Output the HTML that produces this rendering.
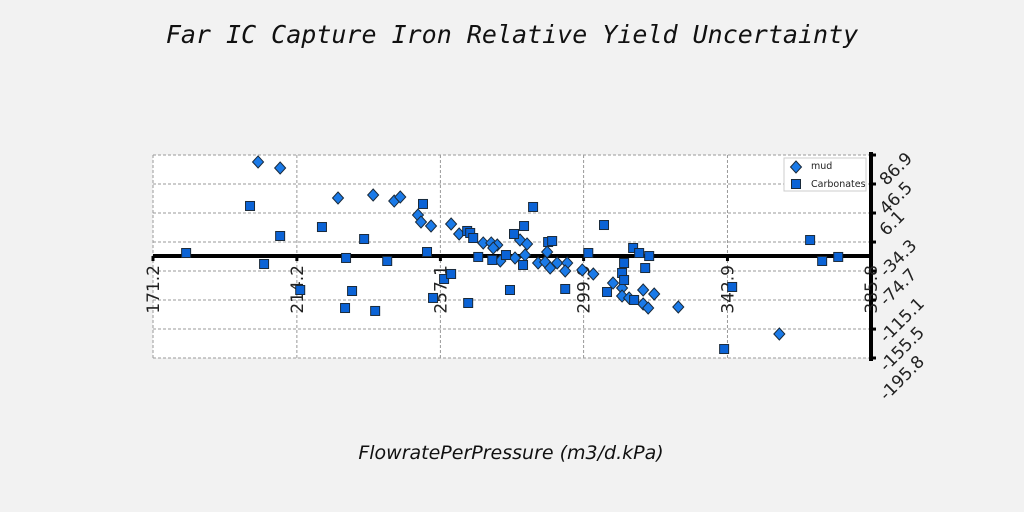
<!DOCTYPE html>
<html><head><meta charset="utf-8"><style>
html,body{margin:0;padding:0;background:#f2f2f2;}
svg{display:block;}
</style></head><body>
<svg id="chart" width="1024" height="512" xmlns="http://www.w3.org/2000/svg">
<rect x="0" y="0" width="1024" height="512" fill="#f2f2f2"/>
<text x="512" y="43" text-anchor="middle" font-family="'DejaVu Sans Mono','Liberation Mono',monospace" font-style="italic" font-size="25" fill="#111">Far IC Capture Iron Relative Yield Uncertainty</text>
<text x="511" y="459" text-anchor="middle" font-family="'DejaVu Sans','Liberation Sans',sans-serif" font-style="italic" font-size="19" fill="#111">FlowratePerPressure (m3/d.kPa)</text>
<g id="plot"></g>
</svg>
<script>
const xTicks = [171.2, 214.2, 257.1, 299.9, 342.9, 385.8];
const yTicks = [86.9, 46.5, 6.1, -34.3, -74.7, -115.1, -155.5, -195.8];
const axisLineValue = -53.8;
const mudX = [202.6,209.2,226.5,237.0,243.3,245.1,250.4,251.3,254.3,260.3,262.7,269.9,272.3,274.1,272.9,275.0,279.4,280.9,283.0,282.4,286.3,288.4,289.9,289.0,292.0,295.0,294.4,299.5,302.8,308.7,311.4,311.4,313.5,317.7,321.0,317.7,319.2,328.2,358.4];
const mudY = [77.2,68.8,27.0,31.2,22.8,28.4,3.3,-6.4,-12.0,-9.2,-23.1,-35.6,-35.6,-38.4,-42.6,-60.7,-56.5,-31.5,-37.0,-52.4,-63.5,-62.1,-70.5,-48.2,-63.5,-63.5,-74.6,-73.2,-78.8,-91.4,-98.3,-109.5,-112.2,-101.1,-106.7,-120.6,-126.2,-124.8,-162.4];
const carbX = [181.1,200.2,204.4,209.2,215.2,221.7,228.6,228.9,230.7,234.3,237.6,241.2,251.9,253.1,254.9,258.2,260.3,265.4,265.1,266.0,266.9,268.4,272.6,276.7,277.9,282.1,279.1,284.8,281.8,289.3,290.5,294.4,301.3,306.0,306.9,312.0,311.4,312.0,314.7,315.0,316.5,319.5,318.3,341.9,344.3,367.6,371.2,376.0];
const carbY = [-49.6,15.9,-64.9,-25.9,-101.1,-13.4,-126.2,-56.5,-102.5,-30.1,-130.3,-60.7,18.7,-48.2,-112.2,-85.8,-78.8,-119.2,-18.9,-21.7,-28.7,-55.1,-59.3,-52.4,-101.1,-12.0,-23.1,14.5,-66.3,-34.3,-32.9,-99.7,-49.6,-10.6,-103.9,-63.5,-77.4,-87.2,-42.6,-115.0,-49.6,-53.8,-70.5,-183.3,-96.9,-31.5,-60.7,-55.1];

const L=153,R=871,T=155,B=358;
const xMin=171.2,xMax=385.8,yMin=-195.8,yMax=86.9;
function sx(v){return L+(v-xMin)/(xMax-xMin)*(R-L);}
function sy(v){return T+(yMax-v)/(yMax-yMin)*(B-T);}
const NS='http://www.w3.org/2000/svg';
const g=document.getElementById('plot');
function mk(tag,attrs,parent){const e=document.createElementNS(NS,tag);for(const k in attrs)e.setAttribute(k,attrs[k]);(parent||g).appendChild(e);return e;}

let e=mk('rect',{x:L,y:T,width:R-L,height:B-T,fill:'#ffffff'});



xTicks.forEach(v=>{
  const l=mk('line',{x1:sx(v),x2:sx(v),y1:T,y2:B,stroke:'#999','stroke-dasharray':'3,2','stroke-width':1});
  
  
});
yTicks.forEach(v=>{
  const l=mk('line',{x1:L,x2:R,y1:sy(v),y2:sy(v),stroke:'#999','stroke-dasharray':'3,2','stroke-width':1});
  
  
});

const ay=sy(axisLineValue);
e=mk('line',{x1:L,x2:R,y1:ay,y2:ay,stroke:'#000','stroke-width':4});


e=mk('line',{x1:R,x2:R,y1:T-3,y2:B+3,stroke:'#000','stroke-width':4});



xTicks.forEach(v=>{
  const x=sx(v);
  const t=mk('line',{x1:x,x2:x,y1:ay,y2:ay+5,stroke:'#000','stroke-width':3});
  
  
  const tx=mk('text',{x:0,y:0,transform:`translate(${x+6},265) rotate(-90)`,'text-anchor':'end','font-family':"'DejaVu Sans','Liberation Sans',sans-serif",'font-size':17,fill:'#222'});
  tx.textContent=v.toFixed(1);
  
  
});
yTicks.forEach(v=>{
  const y=sy(v);
  const t=mk('line',{x1:R,x2:R+5,y1:y,y2:y,stroke:'#000','stroke-width':3});
  
  
  const tx=mk('text',{x:0,y:0,'text-anchor':'middle','dominant-baseline':'central','font-family':"'DejaVu Sans','Liberation Sans',sans-serif",'font-size':17,fill:'#222'});
  tx.textContent=v.toFixed(1);
  
  
  const w=tx.getComputedTextLength();
  const half=w*0.707/2+6;
  tx.setAttribute('transform',`translate(${877+half},${y+half-5}) rotate(-45)`);
});

function diamond(cx,cy,parent){return mk('polygon',{points:`${cx},${cy-6} ${cx+5.5},${cy} ${cx},${cy+6} ${cx-5.5},${cy}`,fill:'#1a7ae8',stroke:'#1a2a3a','stroke-width':1},parent);}
function square(cx,cy,parent){return mk('rect',{x:cx-4.5,y:cy-4.5,width:9,height:9,fill:'#0b63d6',stroke:'#1a2a3a','stroke-width':1},parent);}

mudX.forEach((v,i)=>{
  const p=diamond(sx(v),sy(mudY[i]));
  
  
});
carbX.forEach((v,i)=>{
  const p=square(sx(v),sy(carbY[i]));
  
  
});

const lg=mk('g',{});


e=mk('rect',{x:784,y:158,width:82,height:33,fill:'#fff',stroke:'#ccc','stroke-width':1},lg);


e=diamond(796,167,lg);


e=mk('text',{x:811,y:169,'font-family':"'DejaVu Sans','Liberation Sans',sans-serif",'font-size':9.5,fill:'#222'},lg);
e.textContent='mud';


e=square(796,184,lg);


e=mk('text',{x:811,y:187,'font-family':"'DejaVu Sans','Liberation Sans',sans-serif",'font-size':9.5,fill:'#222'},lg);
e.textContent='Carbonates';


</script>
</body></html>
